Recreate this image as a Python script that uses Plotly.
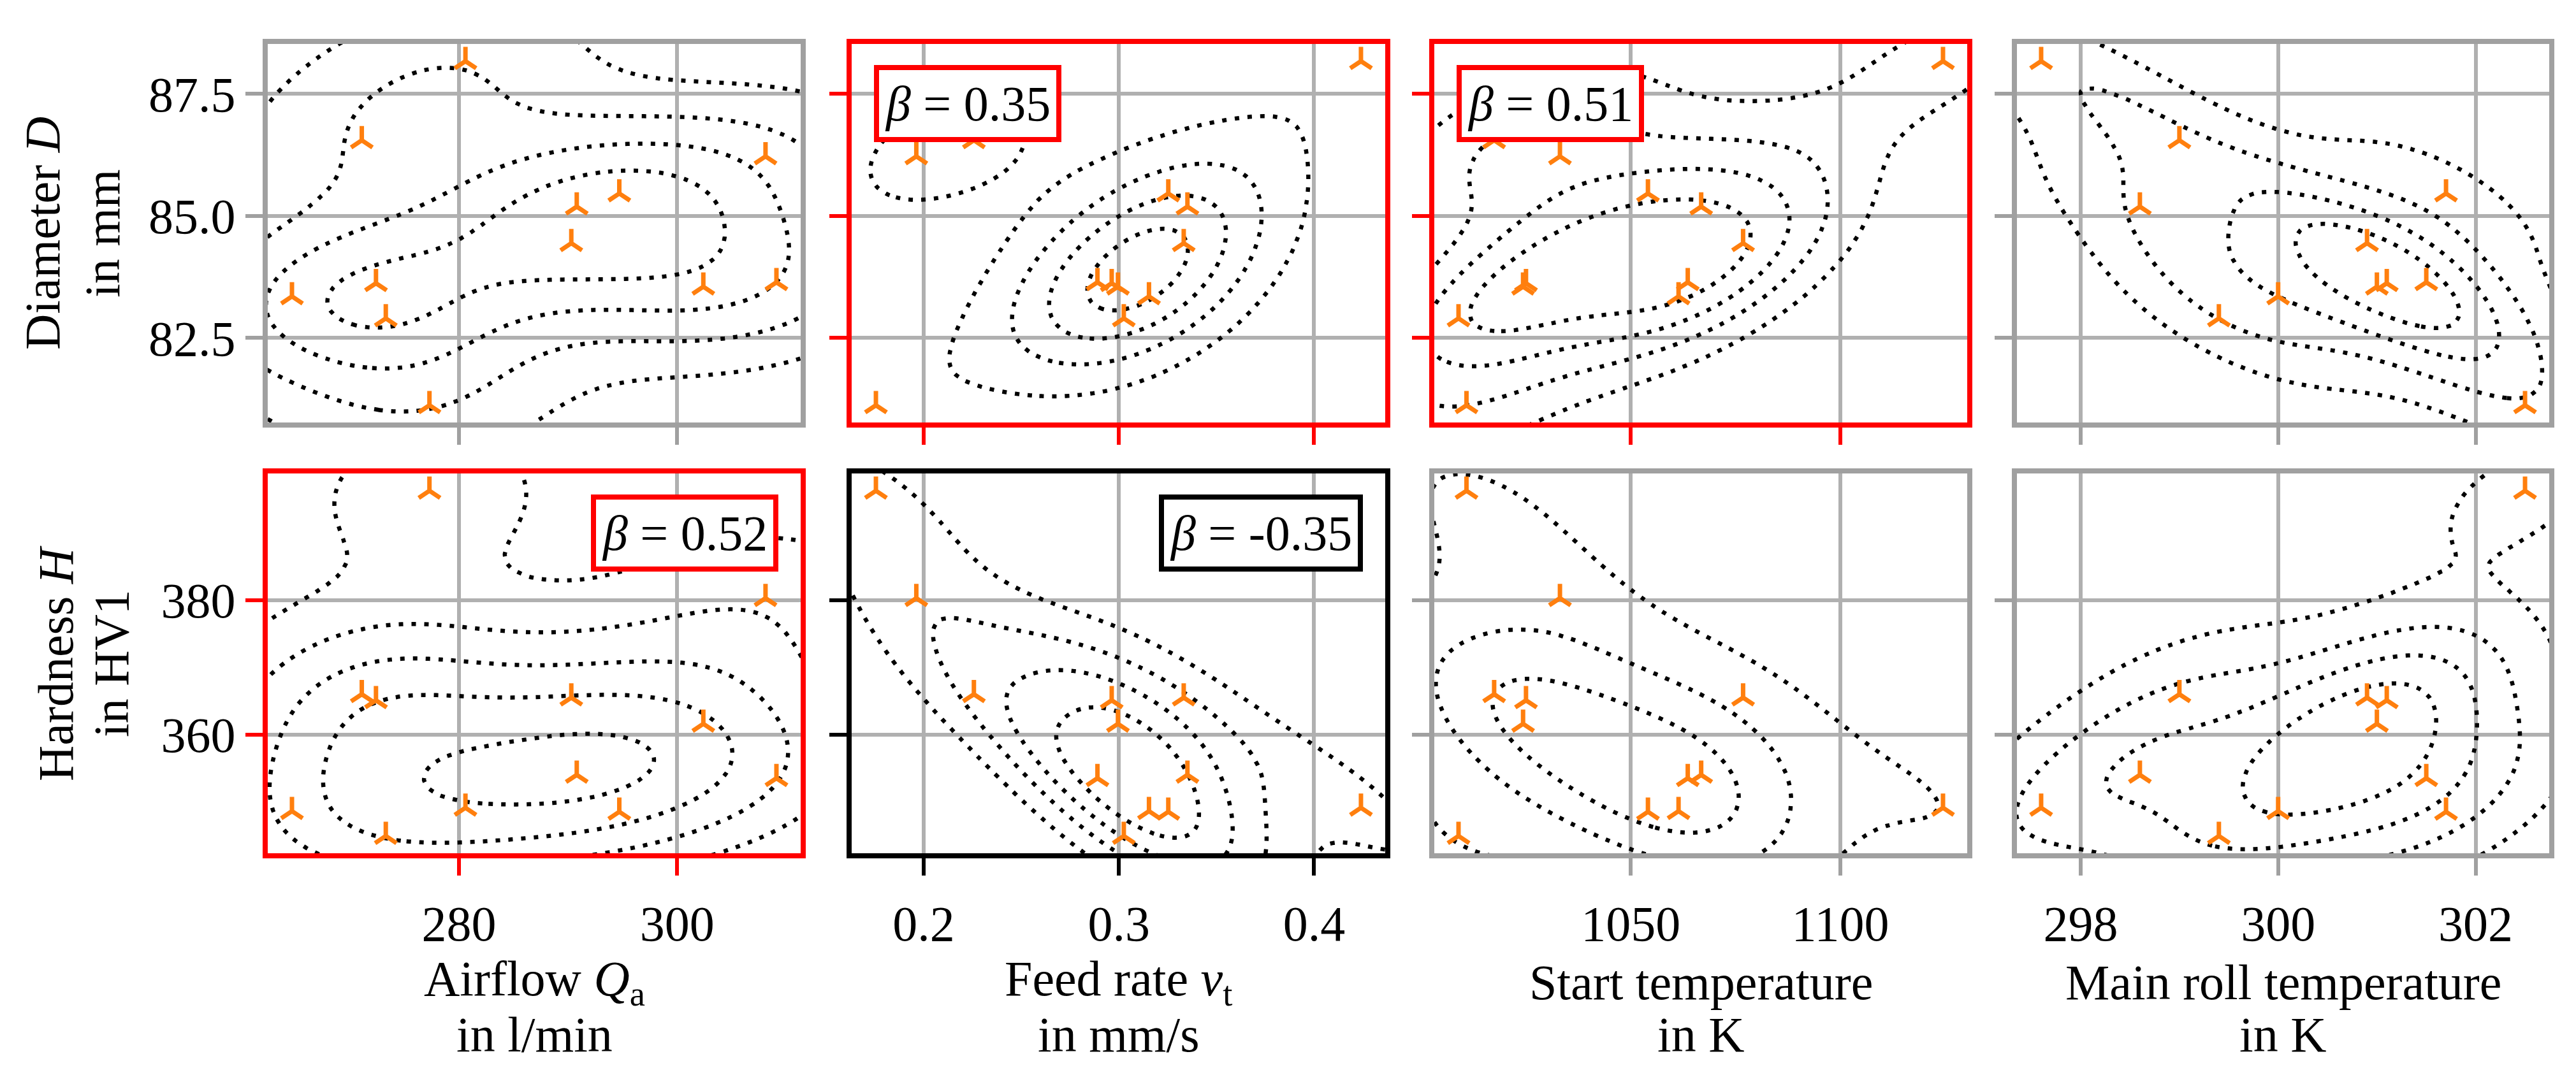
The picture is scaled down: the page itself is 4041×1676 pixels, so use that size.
import numpy as np
import plotly.graph_objects as go

airflow = [280.6, 271.1, 308.1, 294.7, 290.8, 290.3, 272.4, 302.4, 309.1, 264.7, 273.3, 277.3]
feed_rate = [0.424, 0.2257, 0.1962, 0.3253, 0.3351, 0.3332, 0.2963, 0.2995, 0.2890, 0.3154, 0.3025, 0.1755]
start_temp = [1124.5, 1017.4, 1033.1, 1054.1, 1066.8, 1076.8, 1025.0, 1024.3, 1063.6, 1061.4, 1008.9, 1010.8]
roll_temp = [297.6, 299.0, np.nan, 301.7, 298.6, 300.9, 301.1, 301.0, 301.5, 300.0, 299.4, 302.5]
diameter = [88.17, 86.55, 86.22, 85.46, 85.19, 84.44, 83.62, 83.55, 83.64, 83.35, 82.90, 81.12]
hardness = [349.1, 366.0, 380.3, 348.5, 354.0, 365.5, 365.1, 361.6, 353.5, 348.6, 344.9, 396.3]

x_titles = [("Airflow <i>Q</i><sub>a</sub>", "in l/min"), ("Feed rate <i>v</i><sub>t</sub>", "in mm/s"),
            ("Start temperature", "in K"), ("Main roll temperature", "in K")]
y_titles = [("Diameter <i>D</i>", "in mm"), ("Hardness <i>H</i>", "in HV1")]
x_ticks = [[280, 300], [0.2, 0.3, 0.4], [1050, 1100], [298, 300, 302]]
x_ticktext = [["280", "300"], ["0.2", "0.3", "0.4"], ["1050", "1100"], ["298", "300", "302"]]
y_ticks = [[82.5, 85.0, 87.5], [360, 380]]
y_ticktext = [["82.5", "85.0", "87.5"], ["360", "380"]]

# correlation boxes: (row, col, text)
betas = [(0, 1, "0.35"), (0, 2, "0.51"), (1, 0, "0.52"), (1, 1, "-0.35")]

# density contour lines per panel, and gap between the top line and the peak
n_levels = [[4, 4, 4, 4], [5, 4, 3, 4]]
headroom = [[1, 0.6, 1, 1], [0.35, 1, 1, 1]]

xs = [np.array(airflow), np.array(feed_rate), np.array(start_temp), np.array(roll_temp, dtype=float)]
ys = [np.array(diameter), np.array(hardness)]

FONT = "Liberation Serif"
FS = 78
W, H = 4041, 1676
col_px = [(412, 1248), (1328, 2165), (2242, 3078), (3156, 3991)]
row_px = [(61, 655), (735, 1331)]
GRAY = "#a0a0a0"
frame = {(0, 1): "red", (0, 2): "red", (1, 0): "red", (1, 1): "black"}


def kde_field(xv, yv, gridsize=100, cut=3):
    # gaussian kde with scott bandwidth on a grid around the data
    m = ~(np.isnan(xv) | np.isnan(yv))
    data = np.vstack([xv[m], yv[m]])
    n = data.shape[1]
    cov = np.cov(data) * n ** (-1 / 3)
    bw = np.sqrt(np.diag(cov))
    gx = np.linspace(data[0].min() - cut * bw[0], data[0].max() + cut * bw[0], gridsize)
    gy = np.linspace(data[1].min() - cut * bw[1], data[1].max() + cut * bw[1], gridsize)
    X, Y = np.meshgrid(gx, gy)
    inv = np.linalg.inv(cov)
    dx = X[..., None] - data[0]
    dy = Y[..., None] - data[1]
    q = inv[0, 0] * dx * dx + 2 * inv[0, 1] * dx * dy + inv[1, 1] * dy * dy
    dens = np.exp(-0.5 * q).sum(-1) / (n * 2 * np.pi * np.sqrt(np.linalg.det(cov)))
    return gx, gy, dens


def rng(v):
    v = v[~np.isnan(v)]
    span = v.max() - v.min()
    return [v.min() - 0.05 * span, v.max() + 0.05 * span]


fig = go.Figure()
annotations = []
for r in range(2):
    for c in range(4):
        k = r * 4 + c + 1
        sfx = "" if k == 1 else str(k)
        col = frame.get((r, c), GRAY)
        xv, yv = xs[c], ys[r]

        fig.add_trace(go.Scatter(x=xv, y=yv, mode="markers", xaxis="x" + sfx, yaxis="y" + sfx,
                                 marker=dict(symbol="y-up", size=28, color="#ff7f0e",
                                             line=dict(color="#ff7f0e", width=7)),
                                 showlegend=False, hoverinfo="skip"))

        gx, gy, dens = kde_field(xv, yv)
        nl = n_levels[r][c]
        z = np.round(dens / dens.max() * (nl + headroom[r][c]), 4)
        fig.add_trace(go.Contour(x=gx, y=gy, z=z, xaxis="x" + sfx, yaxis="y" + sfx,
                                 contours=dict(coloring="none", start=1, end=nl, size=1),
                                 line=dict(color="black", width=6.5, dash="7px,13px", smoothing=1),
                                 showscale=False, showlegend=False, hoverinfo="skip"))

        x0, x1 = col_px[c]
        t0, t1 = row_px[r]
        fig.layout["xaxis" + sfx] = dict(
            domain=[x0 / W, x1 / W], anchor="y" + sfx, range=rng(xv),
            tickvals=x_ticks[c], ticktext=x_ticktext[c], showticklabels=(r == 1),
            ticks="outside", ticklen=27, tickwidth=6, tickcolor=col,
            showline=True, linecolor=col, linewidth=8, mirror=True,
            showgrid=True, gridcolor="#b0b0b0", gridwidth=6, zeroline=False,
            tickfont=dict(family=FONT, size=FS, color="black"), ticklabelstandoff=8)
        fig.layout["yaxis" + sfx] = dict(
            domain=[1 - t1 / H, 1 - t0 / H], anchor="x" + sfx, range=rng(yv),
            tickvals=y_ticks[r], ticktext=y_ticktext[r], showticklabels=(c == 0),
            ticks="outside", ticklen=27, tickwidth=6, tickcolor=col,
            showline=True, linecolor=col, linewidth=8, mirror=True,
            showgrid=True, gridcolor="#b0b0b0", gridwidth=6, zeroline=False,
            tickfont=dict(family=FONT, size=FS, color="black"), ticklabelstandoff=0)

# beta boxes
for r, c, txt in betas:
    k = r * 4 + c + 1
    sfx = "" if k == 1 else str(k)
    col = frame[(r, c)]
    left = (r == 0)
    pw = col_px[c][1] - col_px[c][0]
    ph = row_px[r][1] - row_px[r][0]
    annotations.append(dict(
        xref="x" + sfx + " domain", yref="y" + sfx + " domain",
        x=(35 / pw) if left else (1 - 35 / pw), y=1 - 33 / ph,
        xanchor="left" if left else "right", yanchor="top", showarrow=False,
        text="<i>β</i> = " + txt, font=dict(family=FONT, size=FS, color="black"),
        bgcolor="white", bordercolor=col, borderwidth=8, borderpad=9))

# axis titles, one annotation per line
for c in range(4):
    xc = (col_px[c][0] + col_px[c][1]) / 2 / W
    for line, yc in zip(x_titles[c], [1533, 1615]):
        annotations.append(dict(xref="paper", yref="paper", x=xc, y=1 - yc / H,
                                xanchor="center", yanchor="middle", showarrow=False,
                                text=line, font=dict(family=FONT, size=FS, color="black")))
for r, xpos in zip(range(2), [(58, 152), (79, 166)]):
    yc = 1 - (row_px[r][0] + row_px[r][1]) / 2 / H
    for line, xc in zip(y_titles[r], xpos):
        annotations.append(dict(xref="paper", yref="paper", x=xc / W, y=yc,
                                xanchor="center", yanchor="middle", textangle=-90, showarrow=False,
                                text=line, font=dict(family=FONT, size=FS, color="black")))

fig.update_layout(width=W, height=H, margin=dict(l=0, r=0, t=0, b=0), showlegend=False,
                  paper_bgcolor="white", plot_bgcolor="white", annotations=annotations,
                  font=dict(family=FONT, size=FS, color="black"))
fig.write_html("out.html")
